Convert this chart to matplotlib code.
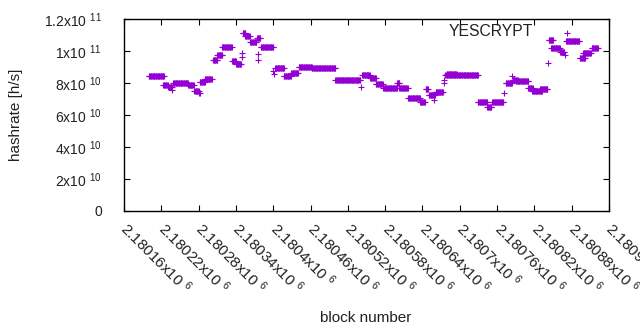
import numpy as np
import matplotlib
matplotlib.use("Agg")
import matplotlib.pyplot as plt

plt.rcParams['font.family'] = ['Liberation Sans', 'DejaVu Sans']
plt.rcParams['mathtext.fontset'] = 'custom'
plt.rcParams['mathtext.rm'] = 'Liberation Sans'
plt.rcParams['mathtext.it'] = 'Liberation Sans:italic'

# runs of blocks with (nearly) constant hashrate, values in 1e10 h/s
run_start = [2180200, 2180223, 2180231, 2180239, 2180263, 2180273, 2180281, 2180282,
             2180290, 2180303, 2180310, 2180318, 2180334, 2180340, 2180351, 2180355,
             2180363, 2180374, 2180380, 2180403, 2180417, 2180429, 2180441, 2180462,
             2180500, 2180543, 2180556, 2180565, 2180577, 2180599, 2180603, 2180617,
             2180636, 2180645, 2180650, 2180661, 2180677, 2180679, 2180729, 2180744,
             2180752, 2180774, 2180785, 2180790, 2180810, 2180816, 2180829, 2180843,
             2180847, 2180861, 2180871, 2180893, 2180898, 2180912]
run_end = [2180224, 2180230, 2180237, 2180263, 2180272, 2180280, 2180282, 2180290,
           2180301, 2180310, 2180318, 2180333, 2180340, 2180348, 2180355, 2180362,
           2180373, 2180379, 2180400, 2180417, 2180428, 2180440, 2180462, 2180500,
           2180540, 2180555, 2180565, 2180576, 2180599, 2180603, 2180616, 2180636,
           2180644, 2180649, 2180660, 2180673, 2180729, 2180695, 2180744, 2180751,
           2180770, 2180784, 2180793, 2180810, 2180817, 2180832, 2180841, 2180850,
           2180861, 2180868, 2180892, 2180901, 2180911, 2180922]
run_value = [8.42, 7.86, 7.77, 7.98, 7.88, 7.53, 7.39, 8.04,
             8.25, 9.44, 9.75, 10.28, 9.39, 9.19, 11.14, 10.94,
             10.58, 10.81, 10.23, 8.92, 8.44, 8.61, 8.98, 8.92,
             8.17, 8.50, 8.29, 7.94, 7.71, 7.98, 7.67, 7.04,
             6.83, 7.61, 7.25, 7.46, 8.50, 8.58, 6.83, 6.50,
             6.79, 7.98, 8.19, 8.13, 7.67, 7.50, 7.61, 10.69,
             10.17, 9.96, 10.61, 9.54, 9.86, 10.17]

# isolated blocks
single_block = [2180237, 2180349, 2180350, 2180375, 2180376, 2180400, 2180401, 2180541,
                2180658, 2180674, 2180675, 2180771, 2180784, 2180842, 2180869, 2180872]
single_value = [7.56, 9.89, 9.64, 9.81, 9.44, 8.77, 8.56, 7.77,
                6.94, 8.19, 8.02, 7.36, 8.44, 9.23, 9.75, 11.14]

xtick_values = list(range(2180160, 2180941, 60))
ytick_values = [0, 2e10, 4e10, 6e10, 8e10, 1e11, 1.2e11]
ytick_labels = ['0', r'2x10 $^{10}$', r'4x10 $^{10}$', r'6x10 $^{10}$', r'8x10 $^{10}$',
                r'1x10 $^{11}$', r'1.2x10 $^{11}$']


def xlabel_for(v):
    return '%gx10 $^{6}$' % (v / 1e6)


blocks = []
rates = []
for s, e, v in zip(run_start, run_end, run_value):
    b = np.arange(s, e + 1)
    blocks.append(b)
    rates.append(np.full(len(b), v * 1e10))
blocks.append(np.array(single_block))
rates.append(np.array(single_value) * 1e10)
blocks = np.concatenate(blocks)
rates = np.concatenate(rates)

fig = plt.figure(figsize=(6.4, 3.3), dpi=100)
ax = fig.add_axes([124 / 640, 1 - 211 / 330, 485 / 640, 192 / 330])

ax.plot(blocks, rates, linestyle='none', marker='+', color='#9400d3',
        markersize=5.0, markeredgewidth=0.8)

ax.set_xlim(2180160, 2180940)
ax.set_ylim(0, 1.2e11)
ax.set_xticks(xtick_values)
ax.set_xticklabels([xlabel_for(v) for v in xtick_values], rotation=-45,
                   ha='left', va='center', rotation_mode='anchor', fontsize=11)
ax.set_yticks(ytick_values)
ax.set_yticklabels(ytick_labels, fontsize=10)
ax.tick_params(direction='in', top=True, right=True, length=4, width=0.8,
               color='black', labelcolor='#202020')
ax.tick_params(axis='y', pad=16)
ax.tick_params(axis='x', pad=10.5)
for sp in ax.spines.values():
    sp.set_linewidth(1.0)

ax.text(0.843, 0.9375, 'YESCRYPT', transform=ax.transAxes, ha='right',
        va='center', fontsize=11.3, color='#202020')

fig.text(16 / 640, 1 - 115 / 330, 'hashrate [h/s]', rotation=90,
         ha='center', va='center', fontsize=11, color='#202020')
fig.text(366 / 640, 1 - 318 / 330, 'block number', ha='center', va='center',
         fontsize=11, color='#202020')

fig.savefig('out.png', dpi=100)
